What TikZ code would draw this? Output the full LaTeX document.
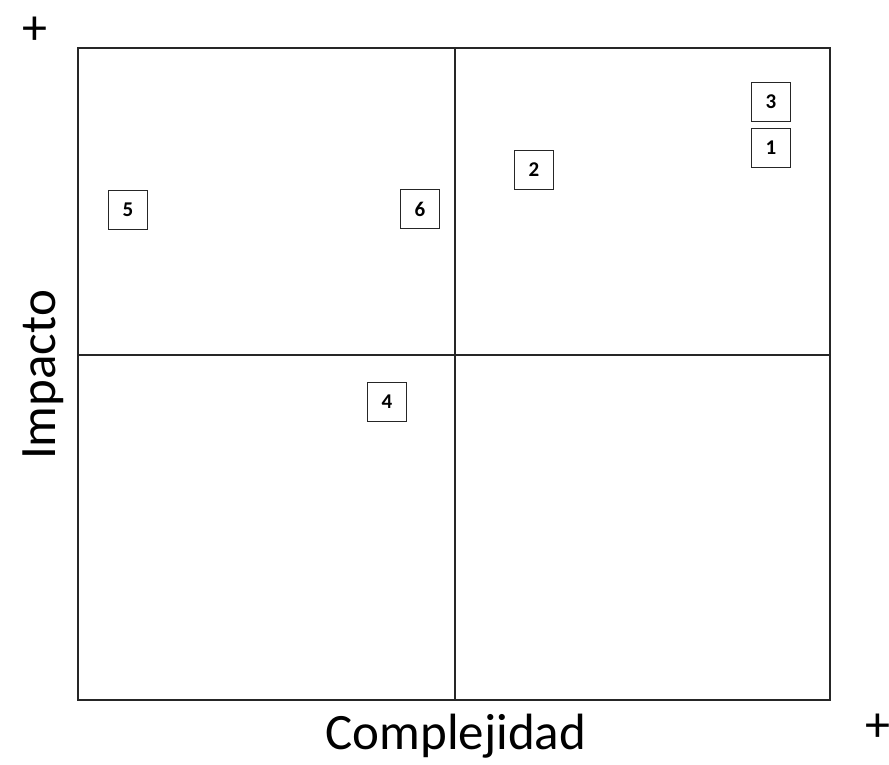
\documentclass[tikz,border=0pt]{standalone}
\usepackage{fontspec}
\setmainfont{Carlito}
\begin{document}
\begin{tikzpicture}[x=1pt,y=-1pt,
  frame/.style={line width=1.6pt,draw=black!85},
  numbox/.style={draw=black!85,line width=1.7pt,minimum width=39pt,minimum height=39pt,inner sep=0pt,font=\fontsize{21}{23}\selectfont\bfseries},
  axislabel/.style={font=\fontsize{51}{57}\selectfont,inner sep=0pt},
  plus/.style={font=\fontsize{50}{56}\selectfont,inner sep=0pt}]
\useasboundingbox (0,0) rectangle (889,764);
\draw[frame] (78,48) rectangle (830,700);
\coordinate (vt) at (455,48);
\coordinate (vb) at (455,700);
\coordinate (hl) at (78,355);
\coordinate (hr) at (830,355);
\draw[frame] (vt) -- (vb);
\draw[frame] (hl) -- (hr);
\node[numbox] (n5) at (128,210) {5};
\node[numbox] (n6) at (420,209) {6};
\node[numbox] (n2) at (534,170) {2};
\node[numbox] (n3) at (771,102) {3};
\node[numbox] (n1) at (771,148) {1};
\node[numbox] (n4) at (387,402) {4};
\node[plus] (ptop) at (35,31) {+};
\node[plus] (pright) at (878,728) {+};
\node[axislabel,anchor=base] (xl) at (456,749) {Complejidad};
\node[axislabel,rotate=90,anchor=base] (yl) at (55,375) {Impacto};
\end{tikzpicture}
\end{document}
